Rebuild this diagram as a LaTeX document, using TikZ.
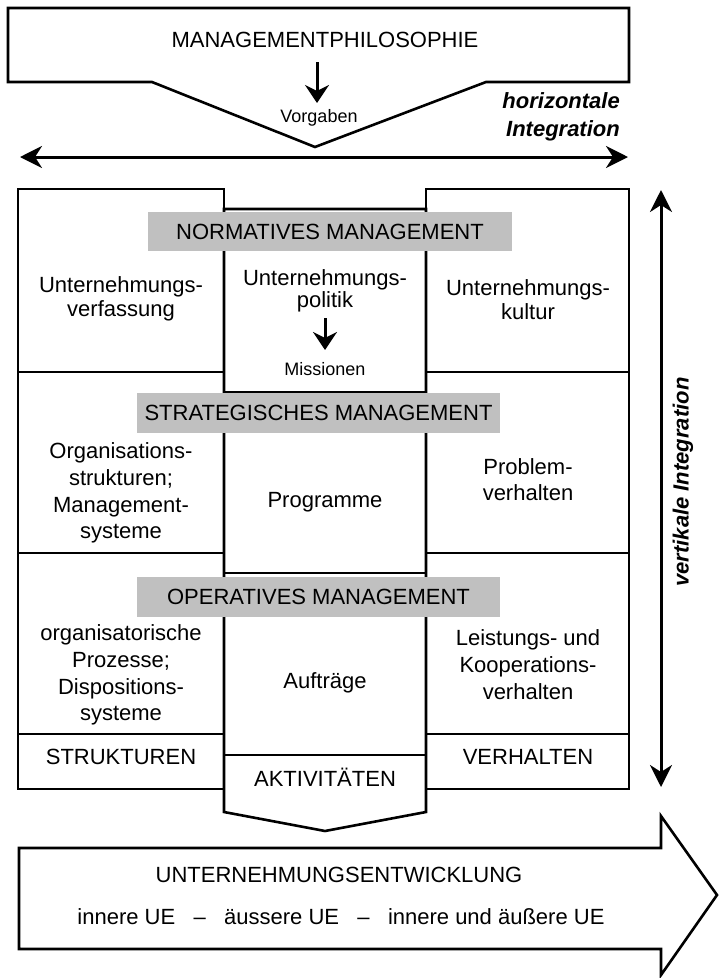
\documentclass[tikz,border=0pt]{standalone}
\usepackage{fontspec}
\setmainfont{Liberation Sans}
\usetikzlibrary{arrows.meta}
\definecolor{labelgray}{RGB}{192,192,192}
\begin{document}
\begin{tikzpicture}[x=1pt,y=-1pt,
  frame/.style={draw=black,line width=2.6pt,line join=miter},
  divider/.style={draw=black,line width=2.6pt},
  bigtip/.style={-{Stealth[length=22pt,width=23pt,inset=7pt]}},
  dbl/.style={line width=3pt,{Stealth[length=22pt,width=22pt,inset=7pt]}-{Stealth[length=22pt,width=22pt,inset=7pt]}},
  down/.style={line width=3pt,-{Stealth[length=18pt,width=24pt,inset=6pt]}},
  txt/.style={inner sep=0pt,align=center,font=\fontsize{22}{24}\selectfont},
  small/.style={inner sep=0pt,font=\fontsize{18}{20}\selectfont},
  glabel/.style={fill=labelgray,inner sep=0pt,font=\fontsize{22}{24}\selectfont},
  integ/.style={inner sep=0pt,font=\fontsize{22}{28}\selectfont\bfseries\itshape}]
\useasboundingbox (0,0) rectangle (720,978);
\fill[white] (0,0) rectangle (720,978);

% management philosophy banner with its notch
\draw[frame] (8,8) -- (629,8) -- (629,82) -- (486,82) -- (315,147)
  -- (152,82) -- (8,82) -- cycle;
\node[txt] (phil) at (325,40) {MANAGEMENTPHILOSOPHIE};
\coordinate (vtop) at (317,62);
\coordinate (vbot) at (317,103);
\draw[down] (vtop) -- (vbot);
\node[small] (vorg) at (319,118) {Vorgaben};

% horizontal integration
\node[integ,align=right,anchor=east] (hint) at (620,117) {horizontale\\Integration};
\coordinate (hl) at (20,157);
\coordinate (hr) at (628,157);
\draw[dbl] (hl) -- (hr);

% left column
\draw[frame] (18,189) rectangle (224,789);
\draw[divider] (18,372) -- (224,372);
\draw[divider] (18,553) -- (224,553);
\draw[divider] (18,734) -- (224,734);
% right column
\draw[frame] (426,189) rectangle (629,789);
\draw[divider] (426,372) -- (629,372);
\draw[divider] (426,553) -- (629,553);
\draw[divider] (426,734) -- (629,734);
% centre column, shifted down, ending in a point
\draw[frame] (224,209) -- (426,209) -- (426,812) -- (325,831) -- (224,812) -- cycle;
\draw[divider] (224,392) -- (426,392);
\draw[divider] (224,573) -- (426,573);
\draw[divider] (224,755) -- (426,755);

% level labels
\node[glabel,minimum width=364pt,minimum height=39pt] (norm) at (330,231.5) {NORMATIVES MANAGEMENT};
\node[glabel,minimum width=363pt,minimum height=40pt] (strat) at (318.5,413) {STRATEGISCHES MANAGEMENT};
\node[glabel,minimum width=363pt,minimum height=40pt] (oper) at (318.5,597) {OPERATIVES MANAGEMENT};

% normative row
\node[txt] (uverf) at (121,298.5) {Unternehmungs-\\verfassung};
\node[txt,font=\fontsize{22}{22}\selectfont] (upol) at (325,291) {Unternehmungs-\\politik};
\node[txt] (ukult) at (528,300) {Unternehmungs-\\kultur};
\coordinate (mtop) at (325,318);
\coordinate (mbot) at (325,350);
\draw[down] (mtop) -- (mbot);
\node[small] (miss) at (325,369) {Missionen};

% strategic row
\node[txt,font=\fontsize{22}{26.7}\selectfont] (orgs) at (121,493) {Organisations-\\strukturen;\\Management-\\systeme};
\node[txt] (progr) at (325,502) {Programme};
\node[txt,font=\fontsize{22}{26}\selectfont] (probl) at (528,480) {Problem-\\verhalten};

% operative row
\node[txt,font=\fontsize{22}{26.7}\selectfont] (orgp) at (121,675) {organisatorische\\Prozesse;\\Dispositions-\\systeme};
\node[txt] (auftr) at (325,683) {Aufträge};
\node[txt,font=\fontsize{22}{27}\selectfont] (leist) at (528,665) {Leistungs- und\\Kooperations-\\verhalten};

% footers
\node[txt] (strukt) at (121,757) {STRUKTUREN};
\node[txt] (verh) at (528,757) {VERHALTEN};
\node[txt] (aktiv) at (325,777) {AKTIVITÄTEN};

% vertical integration
\coordinate (vt) at (661,190);
\coordinate (vb) at (661,787);
\draw[dbl] (vt) -- (vb);
\node[integ,rotate=90] (vint) at (683,482) {vertikale Integration};

% company development arrow
\draw[frame] (19,848) -- (661,848) -- (661,816) -- (717,895) -- (661,975)
  -- (661,949) -- (19,949) -- cycle;
\node[txt] (uent) at (339,875) {UNTERNEHMUNGSENTWICKLUNG};
\node[txt] (ue) at (341,917) {innere UE \ \ – \ \ äussere UE \ \ – \ \ innere und äußere UE};
\end{tikzpicture}
\end{document}
